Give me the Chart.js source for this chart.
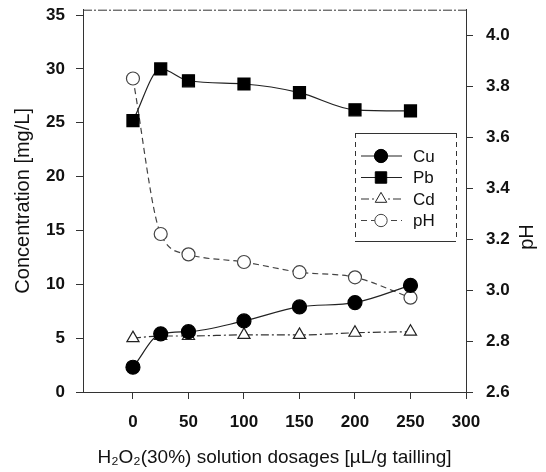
<!DOCTYPE html>
<html lang="en">
<head>
    <meta charset="UTF-8">
    <script src="https://cdn.jsdelivr.net/npm/chart.js"></script>
    <title>H2O2 dosage</title>
    <style>
      html, body { margin: 0; padding: 0; background: #fff; }
      #wrap { width: 546px; height: 472px; }
    </style>
</head>
<body>
  <div id="wrap"><canvas id="myChart"></canvas></div>
<script>
  // values
  const dosages = [0, 25, 50, 100, 150, 200, 250];
  const cu = [2.3, 5.4, 5.6, 6.6, 7.9, 8.3, 9.9];
  const pb = [25.2, 30.0, 28.9, 28.6, 27.8, 26.2, 26.1];
  const cd = [5.0, 5.2, 5.2, 5.3, 5.3, 5.5, 5.6];
  const ph = [3.83, 3.22, 3.14, 3.11, 3.07, 3.05, 2.97];

  const xTicks = [0, 50, 100, 150, 200, 250, 300];
  const concTicks = [0, 5, 10, 15, 20, 25, 30, 35];
  const phTicks = [2.6, 2.8, 3.0, 3.2, 3.4, 3.6, 3.8, 4.0];

  const pts = arr => arr.map((v, i) => ({ x: dosages[i], y: v }));
  const ink = '#111';
  const font = 'Liberation Sans, Arial, sans-serif';

  // frame, legend box and right axis title
  const extras = {
    id: 'extras',
    afterDraw(chart) {
      const { ctx, chartArea: a } = chart;
      ctx.save();
      ctx.strokeStyle = '#333';
      ctx.lineWidth = 1;
      ctx.setLineDash([9, 2, 2, 2]);
      ctx.beginPath();
      ctx.moveTo(a.left, a.top + 0.5);
      ctx.lineTo(a.right, a.top + 0.5);
      ctx.stroke();

      // legend
      const lx = 355, ly = 133, lw = 101, lh = 108;
      ctx.setLineDash([]);
      ctx.fillStyle = '#fff';
      ctx.fillRect(lx, ly, lw, lh);
      ctx.beginPath();
      ctx.moveTo(lx, ly + 0.5); ctx.lineTo(lx + lw, ly + 0.5);
      ctx.moveTo(lx, ly + lh + 0.5); ctx.lineTo(lx + lw, ly + lh + 0.5);
      ctx.stroke();
      ctx.setLineDash([5, 4]);
      ctx.beginPath();
      ctx.moveTo(lx + 0.5, ly); ctx.lineTo(lx + 0.5, ly + lh);
      ctx.moveTo(lx + lw + 0.5, ly); ctx.lineTo(lx + lw + 0.5, ly + lh);
      ctx.stroke();

      chart.data.datasets.forEach((ds, i) => {
        const y = 156 + i * 21.5;
        ctx.strokeStyle = ds.borderColor;
        ctx.lineWidth = 1.2;
        ctx.setLineDash(ds.borderDash || []);
        ctx.beginPath();
        ctx.moveTo(361, y); ctx.lineTo(402, y);
        ctx.stroke();
        ctx.setLineDash([]);
        ctx.fillStyle = ds.pointBackgroundColor;
        ctx.strokeStyle = ds.pointBorderColor;
        ctx.lineWidth = 1;
        Chart.helpers.drawPoint(ctx, {
          pointStyle: ds.pointStyle,
          radius: ds.pointRadius * 0.95,
          borderWidth: 1
        }, 381, y);
        ctx.fillStyle = ink;
        ctx.font = '17px ' + font;
        ctx.textBaseline = 'middle';
        ctx.fillText(ds.label, 413, y + 1);
      });

      // right title, reading upwards like the left one
      ctx.translate(527, 237);
      ctx.rotate(-Math.PI / 2);
      ctx.fillStyle = ink;
      ctx.font = '20px ' + font;
      ctx.textAlign = 'center';
      ctx.textBaseline = 'middle';
      ctx.fillText('pH', 0, 0);
      ctx.restore();
    }
  };

  const noPadY = s => { s.paddingTop = 0; s.paddingBottom = 0; };

  const ctx = document.getElementById('myChart').getContext('2d');
  new Chart(ctx, {
    type: 'line',
    data: {
      datasets: [{
        label: 'Cu',
        data: pts(cu),
        borderColor: '#222',
        borderWidth: 1.2,
        pointStyle: 'circle',
        pointRadius: 7,
        pointBackgroundColor: '#000',
        pointBorderColor: '#000',
        cubicInterpolationMode: 'monotone',
        yAxisID: 'y'
      }, {
        label: 'Pb',
        data: pts(pb),
        borderColor: '#222',
        borderWidth: 1.2,
        pointStyle: 'rect',
        pointRadius: 8.5,
        pointBackgroundColor: '#000',
        pointBorderColor: '#000',
        cubicInterpolationMode: 'monotone',
        yAxisID: 'y'
      }, {
        label: 'Cd',
        data: pts(cd),
        borderColor: '#333',
        borderWidth: 1.2,
        borderDash: [8, 3, 2, 3],
        pointStyle: 'triangle',
        pointRadius: 7,
        pointBackgroundColor: '#fff',
        pointBorderColor: '#222',
        cubicInterpolationMode: 'monotone',
        yAxisID: 'y'
      }, {
        label: 'pH',
        data: pts(ph),
        borderColor: '#444',
        borderWidth: 1.2,
        borderDash: [6, 4],
        pointStyle: 'circle',
        pointRadius: 6.5,
        pointBackgroundColor: '#fff',
        pointBorderColor: '#444',
        cubicInterpolationMode: 'monotone',
        yAxisID: 'y2'
      }]
    },
    options: {
      responsive: true,
      maintainAspectRatio: false,
      animation: false,
      layout: { padding: { top: 7 } },
      plugins: { legend: { display: false }, tooltip: { enabled: false } },
      scales: {
        x: {
          type: 'linear',
          min: -45,
          max: 300,
          afterBuildTicks: s => { s.ticks = xTicks.map(v => ({ value: v })); },
          afterFit: s => { s.height = 80; s.paddingLeft = 0; s.paddingRight = 0; },
          grid: { drawOnChartArea: false, tickLength: 7, color: '#333' },
          border: { color: '#333', dash: [9, 2, 2, 2] },
          ticks: { color: ink, padding: 13, font: { family: font, size: 17, weight: 'bold' } },
          title: {
            display: true,
            text: 'H₂O₂(30%) solution dosages [µL/g tailling]',
            color: ink,
            font: { family: font, size: 19 },
            padding: { top: 0, bottom: 3 }
          }
        },
        y: {
          position: 'left',
          min: 0,
          max: 35.5,
          afterBuildTicks: s => { s.ticks = concTicks.map(v => ({ value: v })); },
          afterFit: s => { s.width = 83; noPadY(s); },
          grid: { drawOnChartArea: false, tickLength: 7, color: '#333' },
          border: { color: '#333', dash: [4, 2] },
          ticks: { color: ink, padding: 11, font: { family: font, size: 17, weight: 'bold' } },
          title: {
            display: true,
            text: 'Concentration [mg/L]',
            color: ink,
            font: { family: font, size: 20 },
            padding: { top: 11, bottom: 0 }
          }
        },
        y2: {
          position: 'right',
          min: 2.6,
          max: 4.1,
          afterBuildTicks: s => { s.ticks = phTicks.map(v => ({ value: v })); },
          afterFit: s => { s.width = 80; noPadY(s); },
          grid: { drawOnChartArea: false, tickLength: 7, color: '#333' },
          border: { color: '#333', dash: [5, 4] },
          ticks: {
            color: ink, padding: 13,
            font: { family: font, size: 17, weight: 'bold' },
            callback: v => v.toFixed(1)
          }
        }
      }
    },
    plugins: [extras]
  });
</script>
</body>
</html>
